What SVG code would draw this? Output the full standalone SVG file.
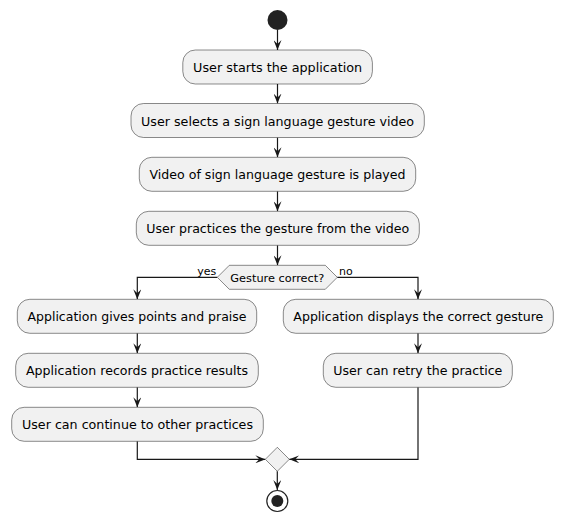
<svg xmlns="http://www.w3.org/2000/svg" width="563" height="523" viewBox="0 0 563 523">
<style>
.act{fill:#F1F1F1;stroke:#181818;stroke-width:0.5}
.t{font-family:"DejaVu Sans",sans-serif;font-size:12.5px;fill:#000;text-anchor:middle}
.s{font-family:"DejaVu Sans",sans-serif;font-size:11px;fill:#000}
.c{fill:none;stroke:#181818;stroke-width:1.2}
</style>
<defs>
<marker id="ah" viewBox="0 0 10 8" refX="10" refY="4" markerWidth="10" markerHeight="8" markerUnits="userSpaceOnUse" orient="auto">
<path d="M0,0 L10,4 L0,8 L4,4 Z" fill="#181818"/>
</marker>
</defs>
<rect width="563" height="523" fill="#FFFFFF"/>
<g id="connectors">
<path class="c" marker-end="url(#ah)" d="M277.5,30 L277.5,50"/>
<path class="c" marker-end="url(#ah)" d="M277.5,84 L277.5,103.5"/>
<path class="c" marker-end="url(#ah)" d="M277.5,137.5 L277.5,157.3"/>
<path class="c" marker-end="url(#ah)" d="M277.5,191.3 L277.5,211.3"/>
<path class="c" marker-end="url(#ah)" d="M277.5,245.3 L277.5,265.3"/>
<path class="c" marker-end="url(#ah)" d="M217.3,277.3 L137.3,277.3 L137.3,299.3"/>
<path class="c" marker-end="url(#ah)" d="M337.3,277.3 L418,277.3 L418,299.3"/>
<path class="c" marker-end="url(#ah)" d="M137.3,333.3 L137.3,353.3"/>
<path class="c" marker-end="url(#ah)" d="M137.3,387.3 L137.3,407.3"/>
<path class="c" marker-end="url(#ah)" d="M418,333.3 L418,353.3"/>
<path class="c" marker-end="url(#ah)" d="M137.3,441.3 L137.3,459.3 L265.3,459.3"/>
<path class="c" marker-end="url(#ah)" d="M418,387.3 L418,459.3 L289.3,459.3"/>
<path class="c" marker-end="url(#ah)" d="M277.3,471.3 L277.3,490"/>
<text class="s" x="197.3" y="275">yes</text>
<text class="s" x="339" y="275">no</text>
</g>
<g id="start"><circle cx="277.5" cy="20" r="10" fill="#222222"/></g>
<g id="n1"><rect class="act" x="182.8" y="50" width="189.6" height="34" rx="12.5"/><text class="t" x="277.6" y="72" textLength="169" lengthAdjust="spacingAndGlyphs">User starts the application</text></g>
<g id="n2"><rect class="act" x="131" y="103.5" width="293.3" height="34" rx="12.5"/><text class="t" x="277.6" y="125.5" textLength="273" lengthAdjust="spacingAndGlyphs">User selects a sign language gesture video</text></g>
<g id="n3"><rect class="act" x="139.3" y="157.3" width="276.4" height="34" rx="12.5"/><text class="t" x="277.5" y="179.3" textLength="256" lengthAdjust="spacingAndGlyphs">Video of sign language gesture is played</text></g>
<g id="n4"><rect class="act" x="136.3" y="211.3" width="283" height="34" rx="12.5"/><text class="t" x="277.8" y="233.3" textLength="263" lengthAdjust="spacingAndGlyphs">User practices the gesture from the video</text></g>
<g id="decision"><polygon class="act" points="217.3,277.3 229.3,265.3 325.3,265.3 337.3,277.3 325.3,289.3 229.3,289.3"/><text class="s" x="277.3" y="281.5" text-anchor="middle" textLength="94" lengthAdjust="spacingAndGlyphs">Gesture correct?</text></g>
<g id="l1"><rect class="act" x="17.3" y="299.3" width="239.4" height="34" rx="12.5"/><text class="t" x="137" y="321.3" textLength="219" lengthAdjust="spacingAndGlyphs">Application gives points and praise</text></g>
<g id="l2"><rect class="act" x="15.7" y="353.3" width="242.6" height="34" rx="12.5"/><text class="t" x="137" y="375.3" textLength="222" lengthAdjust="spacingAndGlyphs">Application records practice results</text></g>
<g id="l3"><rect class="act" x="11.7" y="407.3" width="251.6" height="34" rx="12.5"/><text class="t" x="137.5" y="429.3" textLength="231" lengthAdjust="spacingAndGlyphs">User can continue to other practices</text></g>
<g id="r1"><rect class="act" x="283.3" y="299.3" width="270" height="34" rx="12.5"/><text class="t" x="418.3" y="321.3" textLength="250" lengthAdjust="spacingAndGlyphs">Application displays the correct gesture</text></g>
<g id="r2"><rect class="act" x="323.3" y="353.3" width="189" height="34" rx="12.5"/><text class="t" x="417.8" y="375.3" textLength="169" lengthAdjust="spacingAndGlyphs">User can retry the practice</text></g>
<g id="merge"><polygon class="act" points="277.3,447.3 289.3,459.3 277.3,471.3 265.3,459.3"/></g>
<g id="end"><circle cx="277.3" cy="501" r="10.5" fill="none" stroke="#222222" stroke-width="1.2"/><circle cx="277.3" cy="501" r="6" fill="#222222"/></g>
</svg>
